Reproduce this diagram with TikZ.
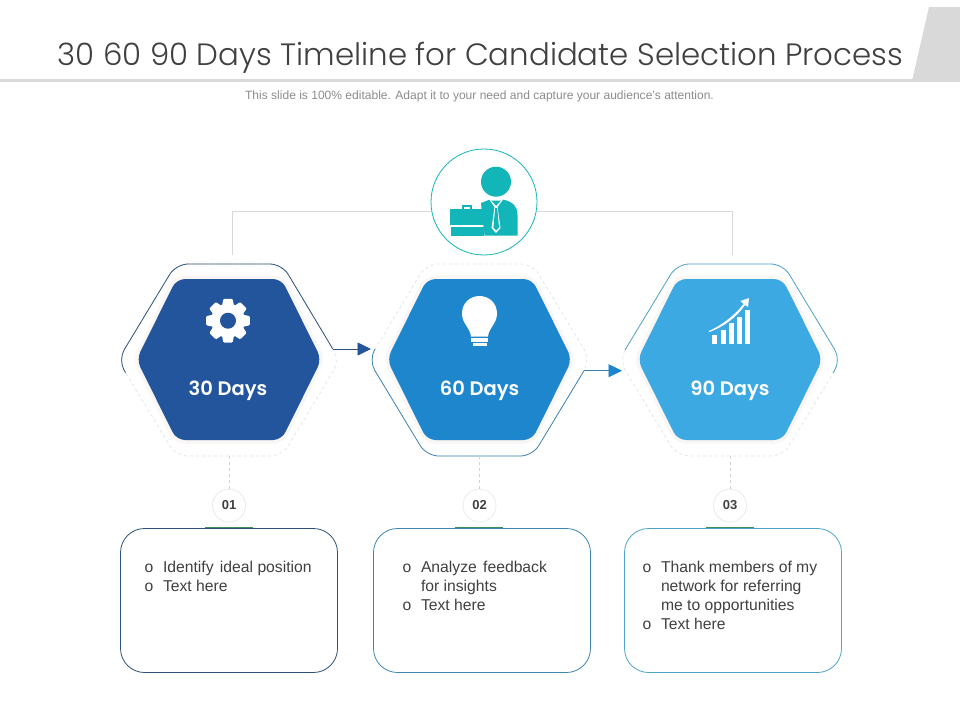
\documentclass[tikz,border=0pt]{standalone}
\usepackage{fontspec}
\setmainfont{Liberation Sans}
\newfontfamily\titlefont[UprightFont={* Light},BoldFont={* SemiBold}]{Poppins}
\usetikzlibrary{arrows.meta,calc}
\definecolor{barg}{HTML}{D9D9D9}
\definecolor{txt}{HTML}{404040}
\definecolor{teal}{HTML}{12B5B8}
\definecolor{blueA}{HTML}{22559C}
\definecolor{blueB}{HTML}{1E86CC}
\definecolor{blueC}{HTML}{3DA9E3}
\definecolor{lineA}{HTML}{2D5278}
\definecolor{lineB}{HTML}{3C85B0}
\definecolor{lineC}{HTML}{4FA3C9}
\definecolor{ringc}{HTML}{F9F6F3}
\definecolor{greenb}{HTML}{3F8F55}
\tikzset{
  titletext/.style={anchor=base,inner sep=0,text=txt,font=\titlefont\fontsize{30.85}{36}\selectfont},
  subtext/.style={anchor=base,inner sep=0,text=black!45,font=\fontsize{12.04}{14}\selectfont},
  body/.style={anchor=base west,inner sep=0,text=txt,font=\fontsize{15.7}{19}\selectfont},
  daylabel/.style={anchor=base,inner sep=0,text=white,font=\titlefont\bfseries\fontsize{19.5}{22}\selectfont},
  numbadge/.style={circle,draw=black!8,fill=white,line width=0.8pt,minimum size=33pt,inner sep=0,text=txt,font=\bfseries\fontsize{13}{15}\selectfont},
  linkgrey/.style={draw=barg,line width=0.8pt},
  ghostdash/.style={draw=black!11,line width=0.7pt,dash pattern=on 3pt off 3pt,rounded corners=12pt},
  drop/.style={draw=black!18,line width=0.7pt,dash pattern=on 3pt off 3pt},
  solidrim/.style={line width=0.8pt,rounded corners=12pt},
  inbox/.style={line width=0.8pt,rounded corners=24pt},
  greenbar/.style={draw=greenb,line width=1.4pt},
  hexshape/.style={rounded corners=8.5pt}
}
\newcommand{\hexoutline}[1]{(#1-92.5,359.5) -- (#1-52.5,279) -- (#1+52.5,279) -- (#1+92.5,359.5) -- (#1+52.5,440) -- (#1-52.5,440) -- cycle}
% ghost outer hexagon and filled inner hexagon, #1 = x centre, #2 = colour
\newcommand{\hexpair}[2]{%
  \draw[ghostdash] (#1-111,360) -- (#1-53,264) -- (#1+53,264) -- (#1+111,360) -- (#1+53,456) -- (#1-53,456) -- cycle;
  \draw[hexshape,draw=ringc,line width=7pt] \hexoutline{#1};
  \fill[hexshape,fill=#2] \hexoutline{#1};
}
\newcommand{\bulletline}[4]{% name, x, baseline y, text
  \node[body] (#1) at (#2,#3) {o};
  \node[body] (#1t) at (#2+18.3,#3) {#4};
}
\begin{document}
\begin{tikzpicture}[x=1pt,y=-1pt]
\useasboundingbox (0,0) rectangle (960,720);
\fill[white] (0,0) rectangle (960,720);

% title band
\fill[barg] (0,79) rectangle (960,81.7);
\fill[barg] (929,7) -- (960,7) -- (960,81) -- (912,81) -- cycle;
\node[titletext] (title) at (480.5,65) {30 60 90 Days Timeline for Candidate Selection Process};
\node[subtext] (subtitle) at (479.5,99) {This slide is 100\% editable. Adapt it to your need and capture your audience’s attention.};

% top circle and links
\node[circle,draw=teal,line width=0.8pt,minimum size=106pt,inner sep=0,fill=white] (hub) at (484,202) {};
\coordinate (linkL) at (232,255);
\coordinate (linkR) at (732,255);
\draw[linkgrey] (hub.west|-0,211) -| (linkL);
\draw[linkgrey] (hub.east|-0,211) -| (linkR);

% person icon
\fill[teal] (496,181.7) circle (15);
\fill[teal] (481,235.5) -- (481,203) -- (490,199.5) -- (503,199.5) .. controls (513,202) and (517.5,206) .. (517.5,215) -- (517.5,235.5) -- cycle;
\fill[white] (489,199) -- (503.5,199) -- (497.5,207) -- (500.5,228) -- (496,233) -- (491.5,228) -- (494.5,207) -- cycle;
\fill[teal] (491.2,200.5) -- (501,200.5) -- (496.2,205.8) -- cycle;
\fill[teal] (495.2,208) -- (497.2,208) -- (499,227.5) -- (496.2,230.5) -- (493.4,227.5) -- cycle;
\fill[white] (478,204) -- (481,204) -- (484.5,236) -- (478,236) -- cycle;
\fill[teal] (450,208.5) rectangle (483.5,225.3);
\fill[teal] (451,227) rectangle (483.5,235.5);
\draw[teal,line width=2pt] (463,208.5) -- (463,206) -- (471,206) -- (471,208.5);

% hexagons
\hexpair{229}{blueA}
\hexpair{479.5}{blueB}
\hexpair{730}{blueC}

% solid rims
\draw[solidrim,draw=lineA] (125.6,372.7) -- (118,360) -- (176,264) -- (282,264) -- (332.8,349);
\draw[solidrim,draw=lineB] (375,349) -- (368.5,360) -- (426.5,456) -- (532.5,456) -- (584,370.7);
\draw[solidrim,draw=lineC] (625,350) -- (677,264) -- (783,264) -- (841,360) -- (833,373);

% arrows between hexagons
\coordinate (arrAs) at (332.8,349);
\coordinate (arrAe) at (371,349);
\coordinate (arrBs) at (584,370.7);
\coordinate (arrBe) at (622,370.7);
\draw[line width=0.8pt,draw=lineA,-{Triangle[length=13.5pt,width=13pt,color=blueA]}] (arrAs) -- (arrAe);
\draw[line width=0.8pt,draw=lineB,-{Triangle[length=13.5pt,width=13pt,color=blueB]}] (arrBs) -- (arrBe);

% gear icon
\begin{scope}[shift={(228,320.7)}]
  \fill[white] (0,0) circle (17);
  \foreach \a in {0,45,...,315}
    \fill[white,rotate=\a,rounded corners=1pt] (-6,-15) -- (-4.6,-21.8) -- (4.6,-21.8) -- (6,-15) -- cycle;
  \fill[blueA] (0,0) circle (8);
\end{scope}

% bulb icon
\fill[white] (471,336.5) .. controls (470,327) and (462,324) .. (462,313.5)
  .. controls (462,303) and (470,296) .. (479.5,296)
  .. controls (489,296) and (497,303) .. (497,313.5)
  .. controls (497,324) and (489,327) .. (488,336.5) -- cycle;
\fill[white] (471,338.3) rectangle (488.3,341.7);
\fill[white] (473,342.7) rectangle (486.7,346);

% chart icon
\fill[white] (712,335) rectangle (717.3,344);
\fill[white] (720.7,330) rectangle (725.7,344);
\fill[white] (729,323.3) rectangle (734,344);
\fill[white] (737.3,316.7) rectangle (742.3,344);
\fill[white] (745,310) rectangle (750,344);
\fill[white] (708.8,331.2) .. controls (722,325) and (734,316) .. (743.5,304)
  -- (740.5,301) -- (749,298) -- (748,307) -- (745,305)
  .. controls (736,318) and (723,327) .. (709.4,332) -- cycle;

% day labels
\node[daylabel] (dayA) at (228,395.5) {30 Days};
\node[daylabel] (dayB) at (479.5,395.5) {60 Days};
\node[daylabel] (dayC) at (730,395.5) {90 Days};

% number badges and drops
\node[numbadge] (numA) at (229,505.5) {01};
\node[numbadge] (numB) at (479.5,505.5) {02};
\node[numbadge] (numC) at (730,505.5) {03};
\coordinate (dropA) at (229,456);
\coordinate (dropB) at (479.5,456);
\coordinate (dropC) at (730,456);
\draw[drop] (dropA) -- (numA);
\draw[drop] (dropB) -- (numB);
\draw[drop] (dropC) -- (numC);

% lower boxes
\draw[inbox,draw=lineA] (120.5,528.5) rectangle (337.5,672.5);
\draw[inbox,draw=lineB] (373.5,528.5) rectangle (590.5,672.5);
\draw[inbox,draw=lineC] (624.5,528.5) rectangle (841.5,672.5);
\draw[greenbar] (205,527.4) -- (253,527.4);
\draw[greenbar] (455,527.4) -- (503,527.4);
\draw[greenbar] (706,527.4) -- (754,527.4);

% box texts
\bulletline{a1}{144.5}{572.8}{Identify\hspace{2pt} ideal position}
\bulletline{a2}{144.5}{591.8}{Text here}
\bulletline{b1}{402.5}{572.8}{Analyze\hspace{2pt} feedback}
\node[body] (b1x) at (420.8,591.8) {for insights};
\bulletline{b2}{402.5}{610.8}{Text here}
\bulletline{c1}{642.5}{572.8}{Thank members of my}
\node[body] (c1x) at (660.8,591.8) {network for referring};
\node[body] (c1y) at (660.8,610.8) {me to opportunities};
\bulletline{c2}{642.5}{629.8}{Text here}
\end{tikzpicture}
\end{document}
